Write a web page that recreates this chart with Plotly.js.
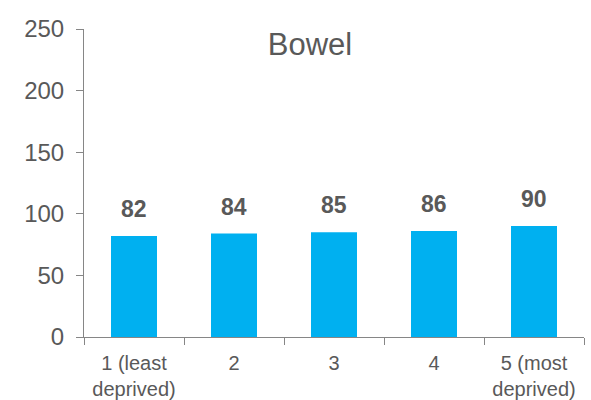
<!DOCTYPE html>
<html>
<head>
<meta charset="utf-8">
<script src="https://cdn.plot.ly/plotly-3.0.1.min.js"></script>
<style>html,body{margin:0;padding:0;background:#fff;}#chart{width:591px;height:400px;}</style>
</head>
<body>
<div id="chart"></div>
<script>
const categories = ["1 (least<br>deprived)", "2", "3", "4", "5 (most<br>deprived)"];
const values = [82, 84, 85, 86, 90];
const valueLabels = ["82", "84", "85", "86", "90"];
const titleText = "Bowel";
const yTicks = [0, 50, 100, 150, 200, 250];

const FONT = "Liberation Sans, Arial, sans-serif";
const TEXT = "#595959";
const AXIS = "#868686";

const trace = {
  type: "bar",
  x: categories,
  y: values,
  marker: {color: "#00B0F0"},
  hoverinfo: "none"
};

const annotations = categories.map((c, i) => ({
  x: i, y: values[i], xref: "x", yref: "y",
  text: "<b>" + valueLabels[i] + "</b>",
  showarrow: false, yanchor: "bottom", yshift: 12,
  font: {family: FONT, size: 23, color: TEXT}
}));

const layout = {
  width: 591, height: 400,
  margin: {l: 84, r: 7, t: 29, b: 63},
  paper_bgcolor: "#fff", plot_bgcolor: "#fff",
  bargap: 0.54,
  showlegend: false,
  title: {
    text: titleText,
    font: {family: FONT, size: 31, color: TEXT},
    xref: "paper", x: 0.452, xanchor: "center",
    yref: "container", y: 0.89, yanchor: "middle"
  },
  xaxis: {
    type: "category",
    showline: true, linecolor: AXIS, linewidth: 1,
    ticks: "outside", tickson: "boundaries", ticklen: 7, tickcolor: AXIS, tickwidth: 1,
    ticklabelstandoff: 8,
    tickfont: {family: FONT, size: 20, color: TEXT},
    showgrid: false, zeroline: false, fixedrange: true
  },
  yaxis: {
    range: [0, 250],
    tickmode: "array", tickvals: yTicks, ticktext: yTicks.map(String),
    showline: true, linecolor: AXIS, linewidth: 1,
    ticks: "outside", ticklen: 7, tickcolor: AXIS, tickwidth: 1,
    ticklabelstandoff: 7,
    tickfont: {family: FONT, size: 24, color: TEXT},
    showgrid: false, zeroline: false, fixedrange: true
  },
  annotations: annotations
};

Plotly.newPlot("chart", [trace], layout, {displayModeBar: false, staticPlot: true});
</script>
</body>
</html>
